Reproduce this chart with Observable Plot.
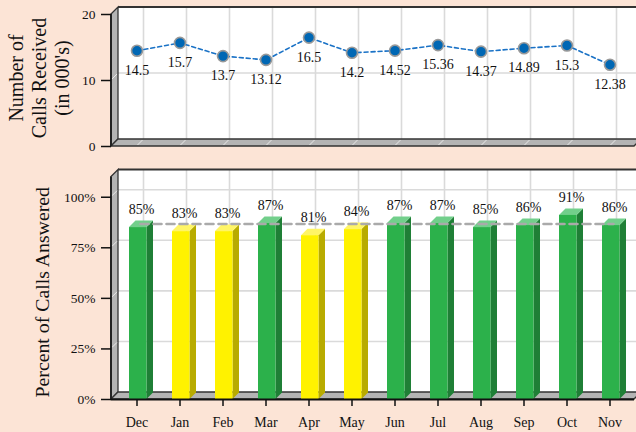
<!DOCTYPE html>
<html><head><meta charset="utf-8">
<script src="https://cdn.jsdelivr.net/npm/d3@7"></script>
<script src="https://cdn.jsdelivr.net/npm/@observablehq/plot@0.6"></script>
<style>
html,body{margin:0;padding:0;background:#fce4d6;}
#chart{width:636px;height:432px;position:relative;overflow:hidden;background:#fce4d6;}
#chart svg{display:block;}
</style></head><body><div id="chart"></div>
<script>
// ---- data ----
const months = ["Dec","Jan","Feb","Mar","Apr","May","Jun","Jul","Aug","Sep","Oct","Nov"];
const callsReceived = [14.5,15.7,13.7,13.12,16.5,14.2,14.52,15.36,14.37,14.89,15.3,12.38];
const pctAnswered = [85,83,83,87,81,84,87,87,85,86,91,86];
const targetPct = 85;
const callTicks = [0,10,20];
const callGrid = [10];
const callDomain = [0,20];
const pctTicks = [0,25,50,75,100];
const pctDomain = [0,110];
const topTitle = "Number of\nCalls Received\n(in 000's)";
const bottomTitle = "Percent of Calls Answered";

const callsData = months.map((m,i)=>({month:m, calls:callsReceived[i]}));
const pctData = months.map((m,i)=>({month:m, pct:pctAnswered[i]}));
const targetData = [{month:months[0], v:targetPct},{month:months[months.length-1], v:targetPct}];

const D = 7;          // wall depth
const BD = 6.5;       // bar depth
const INSET_L = 14, INSET_R = 11.5;
const FONT = "'Liberation Serif','Times New Roman',serif";
const GREEN = {front:"#2cb14b", side:"#1f7f36", top:"#72cf8b"};
const YELLOW = {front:"#fff200", side:"#b8ab00", top:"#fff566"};
const col = v => v >= targetPct ? GREEN : YELLOW;

function bw(x, dim){ return typeof x.bandwidth === "function" ? x.bandwidth() : (dim.width-dim.marginLeft-dim.marginRight)/months.length; }

function backdrop(gridVals) {
  return (index, scales, values, dim) => {
    const {x, y} = scales;
    const L = dim.marginLeft, R = dim.width - dim.marginRight;
    const T = dim.marginTop, B = dim.height - dim.marginBottom;
    const w = bw(x, dim);
    const g = d3.create("svg:g");
    g.append("rect").attr("x", L+D).attr("y", T-D).attr("width", R-L+10).attr("height", B-T).attr("fill", "white");
    for (const m of months) {
      const cx = x(m) + w/2 + D;
      g.append("line").attr("x1", cx).attr("x2", cx).attr("y1", T-D).attr("y2", B-D)
        .attr("stroke", "#dadada").attr("stroke-width", 1.6);
    }
    for (const v of gridVals) {
      const yy = y(v) - D;
      g.append("line").attr("x1", L+D).attr("x2", R+D+10).attr("y1", yy).attr("y2", yy)
        .attr("stroke", "#dadada").attr("stroke-width", 1.6);
    }
    g.append("line").attr("x1", L+D).attr("x2", R+D+10).attr("y1", T-D).attr("y2", T-D)
      .attr("stroke", "#333").attr("stroke-width", 2);
    // left wall
    g.append("polygon").attr("points", [[L,T],[L+D,T-D],[L+D,B-D],[L,B]].join(" "))
      .attr("fill", "#b4b4b4").attr("stroke", "#333").attr("stroke-width", 1.3);
    for (const v of gridVals) {
      g.append("line").attr("x1", L+1).attr("x2", L+D-1).attr("y1", y(v)-1).attr("y2", y(v)-D+1)
        .attr("stroke", "white").attr("stroke-opacity", 0.7).attr("stroke-width", 1);
    }
    // floor
    g.append("polygon").attr("points", [[L,B],[L+D,B-D],[R+D,B-D],[R,B]].join(" "))
      .attr("fill", "#b4b4b4").attr("stroke", "#333").attr("stroke-width", 1.3);
    for (const m of months) {
      const cx = x(m) + w/2;
      g.append("line").attr("x1", cx+1).attr("x2", cx+D-1).attr("y1", B-1).attr("y2", B-D+1)
        .attr("stroke", "white").attr("stroke-opacity", 0.7).attr("stroke-width", 1);
    }
    // front left edge
    g.append("line").attr("x1", L).attr("x2", L).attr("y1", T).attr("y2", B)
      .attr("stroke", "#222").attr("stroke-width", 2);
    return g.node();
  };
}

function barFaces(index, scales, values, dim) {
  const {x, y} = scales;
  const w = bw(x, dim);
  const g = d3.create("svg:g");
  for (const d of pctData) {
    const x1 = x(d.month) + INSET_L, x2 = x(d.month) + w - INSET_R;
    const yt = y(d.pct), yb = y(0);
    const c = col(d.pct);
    g.append("polygon").attr("points", [[x2,yb],[x2,yt],[x2+BD,yt-BD],[x2+BD,yb-BD]].join(" ")).attr("fill", c.side);
    g.append("polygon").attr("points", [[x1,yt],[x1+BD,yt-BD],[x2+BD,yt-BD],[x2,yt]].join(" ")).attr("fill", c.top);
  }
  return g.node();
}

const topPlot = Plot.plot({
  width: 636, height: 160,
  marginLeft: 111, marginRight: 2, marginTop: 14, marginBottom: 14,
  style: {background: "none", fontFamily: FONT, color: "#111", overflow: "visible"},
  x: {type: "band", domain: months, padding: 0, axis: null},
  y: {domain: callDomain},
  marks: [
    backdrop(callGrid),
    Plot.line(callsData, {x: "month", y: "calls", stroke: "#1a72c6", strokeWidth: 1.6, strokeDasharray: "4,3"}),
    Plot.dot(callsData, {x: "month", y: "calls", r: 5.5, fill: "#0067b4", stroke: "#999", strokeWidth: 1.6}),
    Plot.text(callsData, {x: "month", y: "calls", text: d => String(d.calls), dy: 19.5, fontSize: 14, fill: "#111"}),
    Plot.axisY(callTicks, {tickSize: 10, tickPadding: 6, fontSize: 13.5, label: null, stroke: "#111", strokeWidth: 1.5}),
    Plot.text([topTitle], {text: d => d, frameAnchor: "left", textAnchor: "middle", lineAnchor: "middle", rotate: -90, dx: -72.5, dy: -2.5, fontSize: 20, lineHeight: 1.15, fill: "#111"})
  ]
});

const bottomPlot = Plot.plot({
  width: 636, height: 272,
  marginLeft: 111, marginRight: 2, marginTop: 16.5, marginBottom: 33,
  style: {background: "none", fontFamily: FONT, color: "#111", overflow: "visible"},
  x: {type: "band", domain: months, padding: 0},
  y: {domain: pctDomain},
  marks: [
    backdrop(pctTicks.filter(v => v > 0)),
    barFaces,
    Plot.barY(pctData, {x: "month", y: "pct", fill: d => col(d.pct).front, insetLeft: INSET_L, insetRight: INSET_R}),
    Plot.line(targetData, {x: "month", y: "v", stroke: "#aaaaaa", strokeWidth: 2.6, strokeDasharray: "8,5", dx: 3.5, dy: -3.5}),
    Plot.ruleY([0], {stroke: "#111", strokeWidth: 2}),
    Plot.text(pctData, {x: "month", y: "pct", text: d => d.pct + "%", dx: 4.5, dy: -18, fontSize: 14, fill: "#111"}),
    Plot.axisY(pctTicks, {tickSize: 10, tickPadding: 6, fontSize: 13.5, label: null, tickFormat: d => d + "%", stroke: "#111", strokeWidth: 1.5}),
    Plot.axisX(months, {tickSize: 7, tickPadding: 11, fontSize: 14, label: null, stroke: "#111", strokeWidth: 1.5}),
    Plot.text([bottomTitle], {text: d => d, frameAnchor: "left", textAnchor: "middle", rotate: -90, dx: -69, dy: 4, fontSize: 19.8, fill: "#111"})
  ]
});

const host = document.getElementById("chart");
host.appendChild(topPlot);
host.appendChild(bottomPlot);
</script>
</body></html>
